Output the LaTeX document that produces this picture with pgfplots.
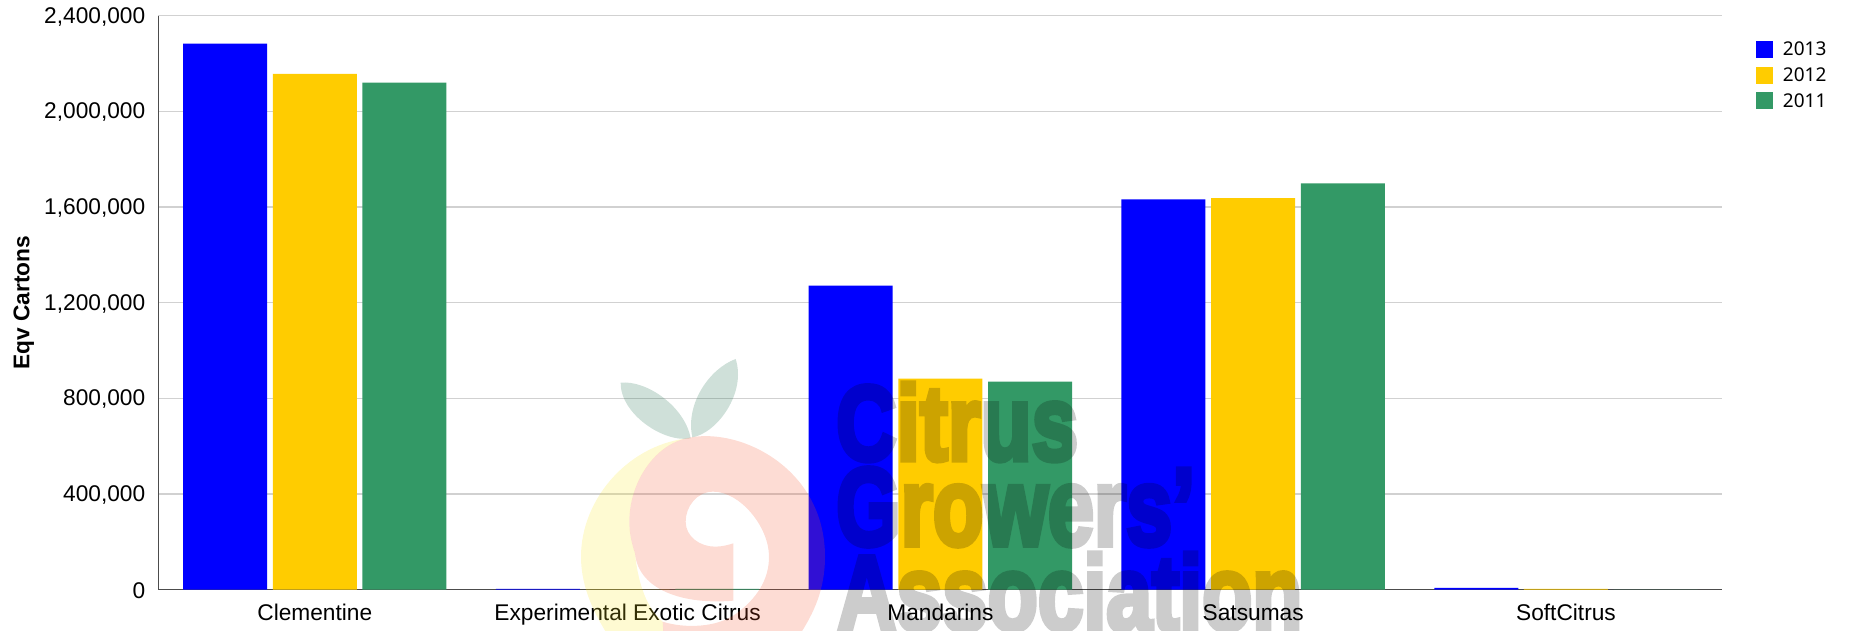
\documentclass[border=0pt]{standalone}
\usepackage{fontspec}
\usepackage{pgfplots}
\usepackage{graphicx}
\pgfplotsset{compat=1.18}
\setmainfont{Liberation Sans}
\newfontfamily\legfont{Noto Sans}
\newfontface\wm{Liberation Sans Bold}[FakeBold=5]
\definecolor{cblue}{HTML}{0000FF}
\definecolor{cyel}{HTML}{FFCC00}
\definecolor{cgrn}{HTML}{339966}
\pgfplotstableread{
x y2013 y2012 y2011
0 2283000 2157000 2120000
1 3000 500 3000
2 1271000 882000 870000
3 1632000 1637000 1699000
4 8000 3000 0
}\datatable
\pgfplotsset{sw/.style={legend image code/.code={\fill[##1] (0pt,-8.5pt) rectangle (17pt,8.5pt);}}}
\begin{document}
\begin{tikzpicture}
\path[use as bounding box] (0,0) rectangle (1852pt,631pt);
\begin{axis}[
  at={(158.4pt,41.3pt)}, anchor=south west,
  scale only axis, width=1564pt, height=574pt,
  xmin=-0.5, xmax=4.5, ymin=0, ymax=2400000,
  ybar=5.7pt, bar width=84pt,
  axis x line=bottom, axis y line=left,
  axis line style={-, draw=black!70, line width=1.3pt},
  xtick={0,1,2,3,4},
  xticklabels={Clementine,Experimental Exotic Citrus,Mandarins,Satsumas,SoftCitrus},
  ytick={0,400000,800000,1200000,1600000,2000000,2400000},
  yticklabels={0,{400,000},{800,000},{1,200,000},{1,600,000},{2,000,000},{2,400,000}},
  major tick length=0pt,
  ymajorgrids, grid style={draw=black!18, line width=1.1pt},
  scaled y ticks=false,
  tick label style={font=\fontsize{22.7}{26}\selectfont, text=black},
  yticklabel style={anchor=east, inner sep=0pt, xshift=-13pt, yshift=-1pt},
  xticklabel style={anchor=base, inner sep=0pt, yshift=-31pt},
  ylabel={\bfseries Eqv Cartons},
  ylabel style={font=\fontsize{22.7}{26}\selectfont, at={(axis description cs:-0.0861,0.5)}, anchor=center, rotate=0},
  legend style={at={(1.0215,0.9575)}, anchor=north west, draw=none, fill=none, inner sep=0pt, outer sep=0pt,
    font=\legfont\fontsize{19}{25.5}\selectfont, row sep=6.3pt,
    /tikz/every odd column/.style={column sep=8pt}},
  legend cell align=left,
]
\addplot[fill=cblue, draw=none, sw] table[x=x,y=y2013]{\datatable};
\addplot[fill=cyel, draw=none, sw] table[x=x,y=y2012]{\datatable};
\addplot[fill=cgrn, draw=none, sw] table[x=x,y=y2011]{\datatable};
\legend{2013,2012,2011}
\end{axis}
% watermark logo
\begin{scope}[shift={(570pt,281pt)},x=0.33333pt,y=-0.33333pt]
\fill[fill={rgb,255:red,15;green,100;blue,65},fill opacity=0.2]
  (152,98) .. controls (230,90) and (345,170) .. (362,265)
  .. controls (280,280) and (150,190) .. (152,98) -- cycle;
\fill[fill={rgb,255:red,15;green,100;blue,65},fill opacity=0.2]
  (497,27) .. controls (420,55) and (345,160) .. (367,262)
  .. controls (440,250) and (530,130) .. (497,27) -- cycle;
\fill[fill={rgb,255:red,250;green,230;blue,30},fill opacity=0.2]
  (345,266) .. controls (170,290) and (33,450) .. (33,620)
  .. controls (33,720) and (80,800) .. (110,850) -- (280,850) -- (278,815)
  .. controls (235,780) and (205,710) .. (195,610)
  .. controls (185,580) and (178,550) .. (178,515)
  .. controls (178,400) and (250,290) .. (345,266) -- cycle;
\fill[fill={rgb,255:red,245;green,80;blue,40},fill opacity=0.2]
  (345,266) .. controls (500,225) and (765,350) .. (765,620)
  .. controls (765,720) and (730,790) .. (692,850) -- (280,850) -- (278,815)
  .. controls (340,835) and (440,835) .. (500,790)
  .. controls (560,745) and (597,690) .. (597,620)
  .. controls (597,530) and (510,425) .. (430,425)
  .. controls (380,425) and (347,470) .. (347,515)
  .. controls (347,560) and (390,590) .. (435,590)
  .. controls (455,590) and (475,585) .. (490,580)
  -- (490,752)
  .. controls (340,765) and (205,720) .. (195,610)
  .. controls (185,580) and (178,550) .. (178,515)
  .. controls (178,400) and (250,290) .. (345,266) -- cycle;
\end{scope}
\begin{scope}[transparency group, opacity=0.2]
\node[anchor=base west, inner sep=0pt, text=black] at (836pt,171pt) {\resizebox{242pt}{77pt}{\wm Citrus}};
\node[anchor=base west, inner sep=0pt, text=black] at (836pt,86pt) {\resizebox{359pt}{77pt}{\wm Growers’}};
\node[anchor=base west, inner sep=0pt, text=black] at (837pt,1pt) {\resizebox{465pt}{77pt}{\wm Association}};
\end{scope}
\end{tikzpicture}
\end{document}
